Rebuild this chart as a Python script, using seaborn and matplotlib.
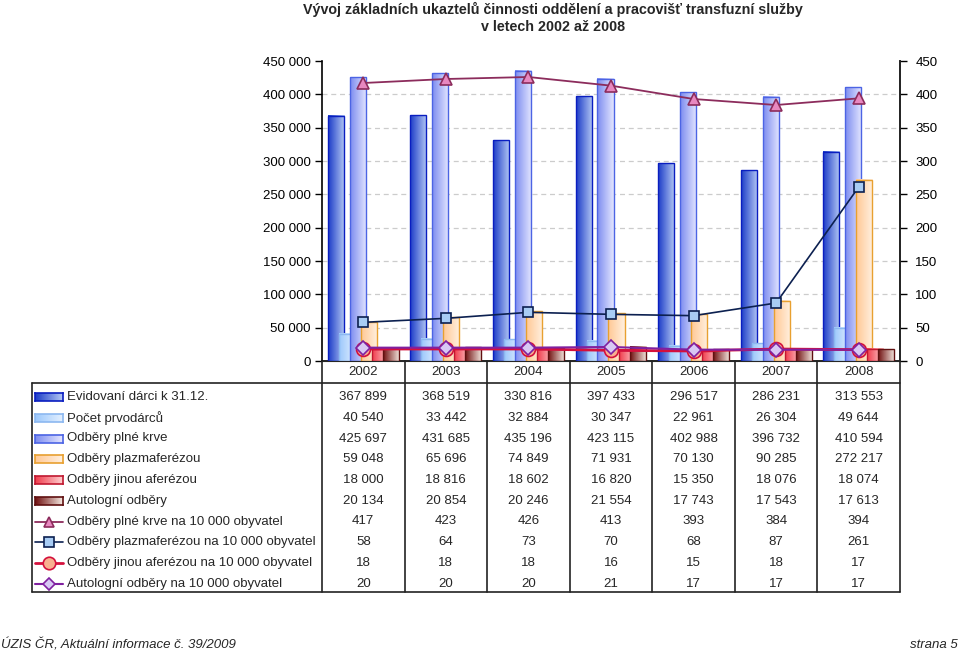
import numpy as np
import matplotlib
matplotlib.use("Agg")
import matplotlib.pyplot as plt
import seaborn as sns
from matplotlib.colors import LinearSegmentedColormap
from matplotlib.lines import Line2D

# ---------------- data ----------------
years = ["2002", "2003", "2004", "2005", "2006", "2007", "2008"]
bar_labels = ["Evidovaní dárci k 31.12.", "Počet prvodárců", "Odběry plné krve",
              "Odběry plazmaferézou", "Odběry jinou aferézou", "Autologní odběry"]
evidovani = [367899, 368519, 330816, 397433, 296517, 286231, 313553]
prvodarci = [40540, 33442, 32884, 30347, 22961, 26304, 49644]
plne_krve = [425697, 431685, 435196, 423115, 402988, 396732, 410594]
plazma = [59048, 65696, 74849, 71931, 70130, 90285, 272217]
jinou = [18000, 18816, 18602, 16820, 15350, 18076, 18074]
autologni = [20134, 20854, 20246, 21554, 17743, 17543, 17613]

line_labels = ["Odběry plné krve na 10 000 obyvatel", "Odběry plazmaferézou na 10 000 obyvatel",
               "Odběry jinou aferézou na 10 000 obyvatel", "Autologní odběry na 10 000 obyvatel"]
plne_10k = [417, 423, 426, 413, 393, 384, 394]
plazma_10k = [58, 64, 73, 70, 68, 87, 261]
jinou_10k = [18, 18, 18, 16, 15, 18, 17]
autol_10k = [20, 20, 20, 21, 17, 17, 17]

bar_series = [evidovani, prvodarci, plne_krve, plazma, jinou, autologni]
line_series = [plne_10k, plazma_10k, jinou_10k, autol_10k]

# ---------------- styles ----------------
bar_grad = [("#1c3cc8", "#b4c8f4"), ("#9cc8fc", "#e4f0ff"), ("#7c8cf0", "#e4e6ff"),
            ("#ffc894", "#fff0e0"), ("#f03c4c", "#ffd0d0"), ("#701010", "#f4e8e0")]
bar_edge = ["#0a1ec0", "#8cb8f0", "#4c64e4", "#e8a030", "#c01830", "#601010"]
line_col = ["#8c2c5c", "#0c2050", "#d4103c", "#8020a0"]
mk = ["^", "s", "o", "D"]
mk_face = ["#e888c0", "#a8ccf4", "#f8b090", "#d8c8f4"]
mk_edge = ["#8c2c5c", "#0c2050", "#d4103c", "#8020a0"]
mk_size = [8, 7.5, 10, 7]
lw = [1.3, 1.2, 2.0, 1.5]

sns.set_style("white")
plt.rcParams["font.family"] = ["Liberation Sans", "DejaVu Sans"]

W, H = 960, 652
fig = plt.figure(figsize=(W / 100, H / 100), dpi=100)

L, R, T, B = 322, 900, 61, 361
ax = fig.add_axes([L / W, 1 - B / H, (R - L) / W, (B - T) / H])
ax.set_facecolor("none")
n = len(years)
x = np.arange(n)

bw = 0.194
step = 0.133
for i, (vals, lab) in enumerate(zip(bar_series, bar_labels)):
    pos = x + (i - 2.5) * step
    bars = ax.bar(pos, vals, width=bw, facecolor="none", edgecolor=bar_edge[i],
                  linewidth=1.0, zorder=3 + i * 2 + 1, label=lab)
    cmap = LinearSegmentedColormap.from_list("g%d" % i, bar_grad[i])
    grad = np.linspace(0, 1, 64).reshape(1, -1)
    for p in bars.patches:
        x0, y0 = p.get_x(), p.get_y()
        ax.imshow(grad, extent=[x0, x0 + p.get_width(), y0, y0 + p.get_height()],
                  aspect="auto", cmap=cmap, interpolation="bicubic", zorder=3 + i * 2)

ax.set_xlim(-0.5, n - 0.5)
ax.set_ylim(0, 450000)
ax.set_yticks(np.arange(0, 450001, 50000))
ax.set_yticklabels([f"{v:,}".replace(",", " ") for v in range(0, 450001, 50000)], fontsize=9.5)
ax.set_xticks([])
ax.yaxis.grid(True, linestyle=(0, (4, 3)), color="#cccccc", linewidth=0.9)
ax.set_axisbelow(True)
ax.tick_params(axis="y", direction="out", length=5, width=1, pad=3, left=True, colors="black")
gl = ax.get_ygridlines()
gl[0].set_visible(False)
gl[-1].set_visible(False)
ax.spines["top"].set_visible(False)
for s in ["left", "bottom", "right"]:
    ax.spines[s].set_color("black")
    ax.spines[s].set_linewidth(1.2)

ax2 = ax.twinx()
ax2.set_facecolor("none")
for i, vals in enumerate(line_series):
    sns.lineplot(x=x, y=vals, ax=ax2, color=line_col[i], linewidth=lw[i], marker=mk[i],
                 markersize=mk_size[i], markerfacecolor=mk_face[i], markeredgecolor=mk_edge[i],
                 markeredgewidth=1.2, legend=False, zorder=20 + i)
ax2.set_ylim(0, 450)
ax2.set_xlim(-0.5, n - 0.5)
ax2.set_yticks(np.arange(0, 451, 50))
ax2.set_yticklabels([str(v) for v in range(0, 451, 50)], fontsize=9.5)
ax2.tick_params(axis="y", direction="out", length=5, width=1, pad=6, right=True, colors="black")
ax2.spines["top"].set_visible(False)
ax2.spines["right"].set_linewidth(1.2)
ax2.spines["left"].set_visible(False)
ax2.set_ylabel("")
ax2.set_xticks([])

# ---------------- data table ----------------
def fx(px):
    return px / W

def fy(py):
    return 1 - py / H

def hline(x0, x1, y, lwd=1.2):
    fig.add_artist(Line2D([fx(x0), fx(x1)], [fy(y), fy(y)], color="#222222", linewidth=lwd))

def vline(xp, y0, y1, lwd=1.2):
    fig.add_artist(Line2D([fx(xp), fx(xp)], [fy(y0), fy(y1)], color="#222222", linewidth=lwd))

cw = (R - L) / n
tab_top, tab_bot = 383, 592
hline(32, R, tab_top)
hline(32, R, tab_bot)
vline(32, tab_top, tab_bot)
for k in range(n + 1):
    vline(L + k * cw, B, tab_bot)

for j, yr in enumerate(years):
    fig.text(fx(L + (j + 0.5) * cw), fy(372), yr, ha="center", va="center", fontsize=9.5)

row_y = [397 + 20.75 * r for r in range(10)]
all_labels = bar_labels + line_labels
fmt = lambda v: f"{v:,}".replace(",", " ")
all_vals = bar_series + line_series
for r, (lab, vals) in enumerate(zip(all_labels, all_vals)):
    yy = row_y[r]
    fig.text(fx(67), fy(yy), lab, ha="left", va="center", fontsize=9.5)
    for j, v in enumerate(vals):
        fig.text(fx(L + (j + 0.5) * cw), fy(yy), fmt(v), ha="center", va="center", fontsize=9.5)
    if r < 6:
        kax = fig.add_axes([fx(35), fy(yy + 4), 28 / W, 8 / H])
        cmap = LinearSegmentedColormap.from_list("k%d" % r, bar_grad[r])
        kax.imshow(np.linspace(0, 1, 64).reshape(1, -1), aspect="auto", cmap=cmap,
                   interpolation="bicubic")
        kax.set_xticks([]); kax.set_yticks([])
        for s in kax.spines.values():
            s.set_color(bar_edge[r]); s.set_linewidth(1.2)
    else:
        i = r - 6
        fig.add_artist(Line2D([fx(35), fx(63)], [fy(yy), fy(yy)], color=line_col[i], linewidth=lw[i]))
        fig.add_artist(Line2D([fx(49)], [fy(yy)], marker=mk[i], markersize=mk_size[i] * 0.9,
                              markerfacecolor=mk_face[i], markeredgecolor=mk_edge[i],
                              markeredgewidth=1.2, linestyle="none"))

# ---------------- titles / footer ----------------
fig.text(fx(553), fy(9), "Vývoj základních ukaztelů činnosti oddělení a pracovišť transfuzní služby",
         ha="center", va="center", fontsize=10.3, fontweight="bold")
fig.text(fx(553), fy(27), "v letech 2002 až 2008", ha="center", va="center",
         fontsize=10.3, fontweight="bold")
fig.text(fx(1), fy(645), "ÚZIS ČR, Aktuální informace č. 39/2009", ha="left", va="center",
         fontsize=9.5, style="italic")
fig.text(fx(958), fy(645), "strana 5", ha="right", va="center", fontsize=9.5, style="italic")

fig.savefig("out.png", dpi=100)
